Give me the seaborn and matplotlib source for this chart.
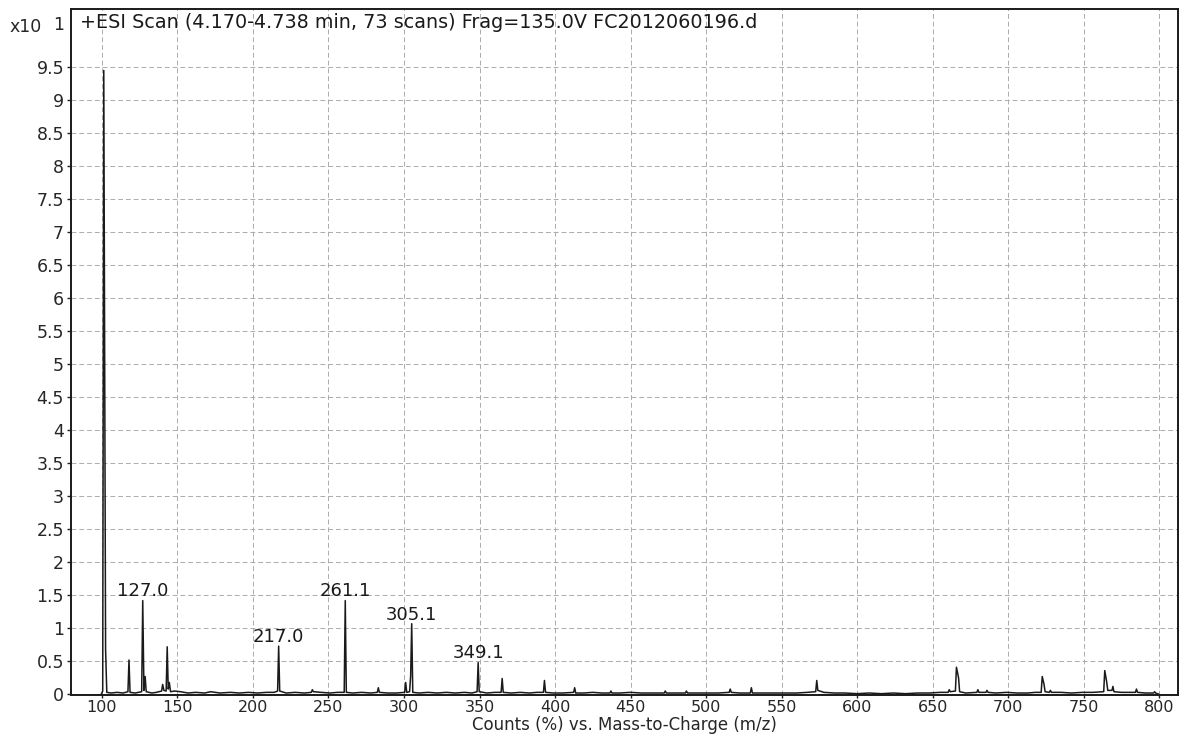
import pandas as pd
import matplotlib.pyplot as plt
import seaborn as sns

# apex of each peak (m/z, counts x10^1)
peak_mz = [101.2, 102.4, 117.9, 127.0, 128.6, 140.2, 143.2, 144.6, 217.0, 239.3,
           261.1, 283.0, 301.1, 304.4, 305.1, 349.1, 365.0, 393.0, 413.0, 437.0,
           473.0, 487.0, 516.0, 530.0, 573.3, 661.0, 665.8, 667.2, 680.0, 686.0,
           722.6, 723.8, 728.0, 764.0, 765.2, 769.4, 785.0, 797.0]
peak_int = [9.45, 0.68, 0.52, 1.42, 0.27, 0.15, 0.72, 0.18, 0.73, 0.07,
            1.42, 0.10, 0.18, 0.28, 1.07, 0.48, 0.24, 0.21, 0.10, 0.05,
            0.05, 0.05, 0.08, 0.10, 0.21, 0.07, 0.41, 0.25, 0.07, 0.06,
            0.27, 0.15, 0.06, 0.36, 0.20, 0.12, 0.08, 0.04]

# baseline / noise between the peaks
base_mz = [99.5, 100.5, 103.2, 106, 110, 114, 117.2, 118.6, 122, 126.3,
           127.8, 129.3, 133, 136, 139.5, 141, 142.5, 143.9, 145.4, 148,
           152, 157, 162, 168, 172, 178, 185, 191, 197, 203,
           209, 214, 216.3, 217.7, 222, 228, 234, 238.6, 240, 245,
           251, 256, 260.4, 261.8, 266, 272, 278, 282.3, 283.7, 289,
           295, 300.4, 301.8, 303.7, 305.8, 310, 316, 322, 328, 334,
           340, 345, 348.4, 349.8, 355, 360, 364.3, 365.7, 371, 377,
           383, 388, 392.3, 393.7, 399, 405, 412.3, 413.7, 419, 425,
           431, 436.3, 437.7, 443, 450, 457, 465, 472.3, 473.7, 480,
           486.3, 487.7, 494, 501, 508, 515.3, 516.7, 522, 529.3, 530.7,
           537, 545, 553, 560, 567, 572.6, 574.0, 578, 585, 592,
           600, 608, 616, 624, 632, 640, 648, 655, 660.3, 661.7,
           665.1, 667.9, 672, 679.3, 680.7, 685.3, 686.7, 692, 699, 706,
           713, 718, 721.9, 724.5, 727.3, 728.7, 735, 742, 749, 756,
           763.3, 766, 768.8, 770.1, 775, 780, 784.3, 785.7, 791, 796.3,
           797.7, 800]
base_int = [0.0, 0.05, 0.03, 0.02, 0.03, 0.02, 0.04, 0.03, 0.02, 0.04,
            0.06, 0.04, 0.02, 0.03, 0.05, 0.06, 0.05, 0.08, 0.04, 0.05,
            0.04, 0.02, 0.03, 0.02, 0.04, 0.02, 0.03, 0.02, 0.03, 0.02,
            0.03, 0.03, 0.05, 0.05, 0.02, 0.03, 0.02, 0.03, 0.04, 0.03,
            0.02, 0.03, 0.03, 0.03, 0.02, 0.03, 0.02, 0.03, 0.03, 0.02,
            0.02, 0.03, 0.03, 0.04, 0.03, 0.02, 0.03, 0.02, 0.03, 0.02,
            0.03, 0.02, 0.04, 0.04, 0.02, 0.03, 0.03, 0.03, 0.02, 0.03,
            0.02, 0.03, 0.03, 0.03, 0.02, 0.02, 0.03, 0.02, 0.02, 0.03,
            0.02, 0.02, 0.02, 0.02, 0.03, 0.02, 0.02, 0.02, 0.02, 0.02,
            0.02, 0.02, 0.02, 0.02, 0.02, 0.03, 0.03, 0.02, 0.02, 0.02,
            0.02, 0.02, 0.02, 0.02, 0.03, 0.04, 0.06, 0.03, 0.02, 0.02,
            0.01, 0.02, 0.01, 0.02, 0.01, 0.02, 0.02, 0.03, 0.03, 0.04,
            0.05, 0.04, 0.02, 0.03, 0.03, 0.03, 0.03, 0.02, 0.03, 0.02,
            0.02, 0.03, 0.03, 0.04, 0.03, 0.03, 0.03, 0.02, 0.03, 0.03,
            0.04, 0.06, 0.06, 0.04, 0.03, 0.03, 0.03, 0.03, 0.02, 0.02,
            0.02, 0.0]

labelled = [127.0, 217.0, 261.1, 305.1, 349.1]

x_ticks = list(range(100, 801, 50))
y_ticks = [0, 0.5, 1, 1.5, 2, 2.5, 3, 3.5, 4, 4.5, 5, 5.5, 6, 6.5, 7, 7.5, 8, 8.5, 9, 9.5]

spec = pd.DataFrame({'mz': peak_mz + base_mz, 'counts': peak_int + base_int})
spec = spec.sort_values('mz').reset_index(drop=True)

sns.set_style('white')
plt.rcParams['font.family'] = ['DejaVu Sans']

fig = plt.figure(figsize=(11.81, 7.34), dpi=100)
ax = fig.add_axes([71 / 1181, 1 - 695 / 734, (1178 - 71) / 1181, (695 - 9) / 734])

sns.lineplot(data=spec, x='mz', y='counts', sort=False, estimator=None,
             color='#1a1a1a', linewidth=1.1, ax=ax)

ax.set_xlim(79.5, 812.5)
ax.set_ylim(-0.01, 10.38)
ax.set_xticks(x_ticks)
ax.set_yticks(y_ticks)
ax.set_yticklabels([f'{v:g}' for v in y_ticks])
ax.grid(True, color='#ababab', linestyle=(0, (5, 3)), linewidth=0.7)
ax.tick_params(axis='x', direction='out', length=2.5, width=1, color='#222222',
               labelsize=11.5, pad=1, bottom=True)
ax.tick_params(axis='y', direction='out', length=3, width=1, color='#222222',
               labelsize=12.5, pad=2, left=True)
for s in ax.spines.values():
    s.set_color('#1a1a1a')
    s.set_linewidth(1.4)

ax.set_xlabel('Counts (%) vs. Mass-to-Charge (m/z)', fontsize=12)
ax.xaxis.set_label_coords(0.5, -0.0517)
ax.xaxis.label.set_va('baseline')
ax.set_ylabel('')

for mz in labelled:
    h = peak_int[peak_mz.index(mz)]
    ax.annotate(f'{mz:.1f}', (mz, h), xytext=(0, 3), textcoords='offset points',
                ha='center', va='baseline', fontsize=13, color='#1a1a1a')

ax.text(0.008, 0.972, '+ESI Scan (4.170-4.738 min, 73 scans) Frag=135.0V FC2012060196.d',
        transform=ax.transAxes, ha='left', va='baseline', fontsize=13.8, color='#1a1a1a')
fig.text(10 / 1181, 1 - 32 / 734, 'x10', ha='left', va='baseline', fontsize=12.5)
fig.text(53 / 1181, 1 - 30 / 734, '1', ha='left', va='baseline', fontsize=12.5)

fig.savefig('out.png', dpi=100)
